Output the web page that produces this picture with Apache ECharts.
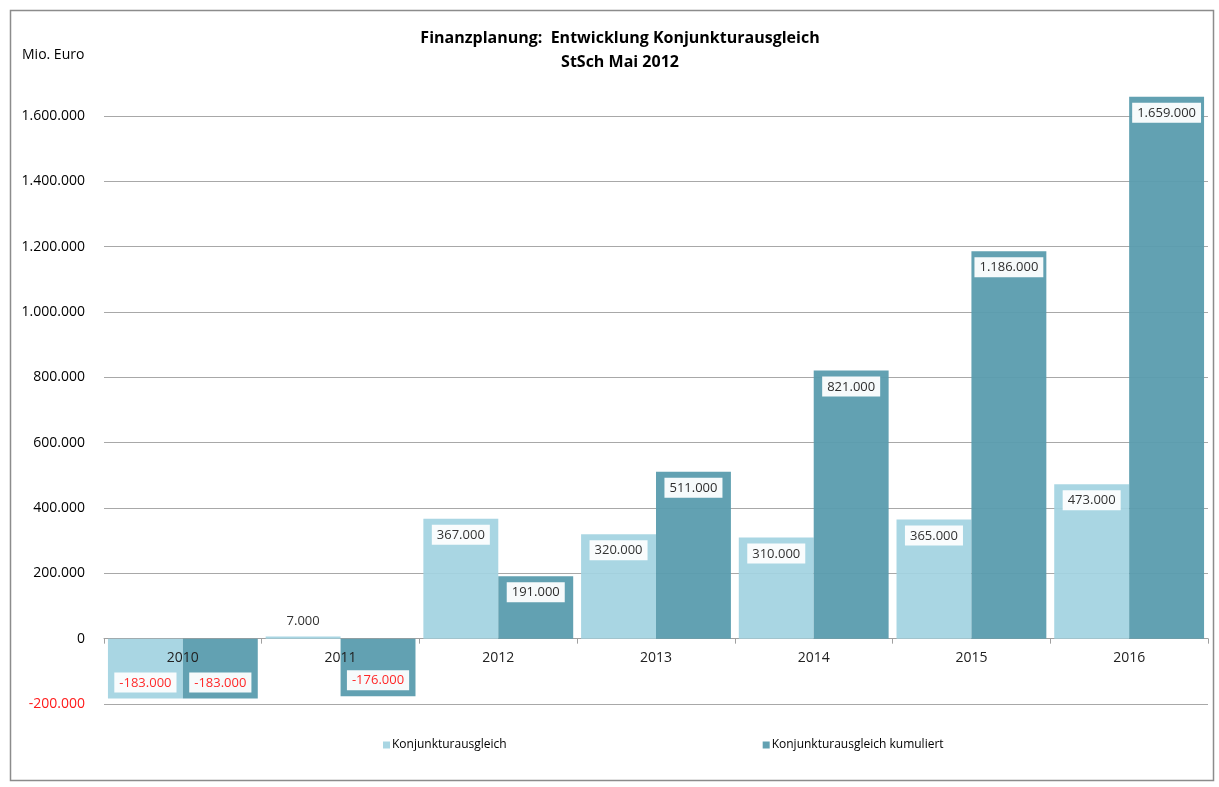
<!DOCTYPE html>
<html><head><meta charset="utf-8">
<script src="https://cdn.jsdelivr.net/npm/echarts@6/dist/echarts.min.js"></script>
<style>html,body{margin:0;padding:0;background:#fff}#c{width:1219px;height:787px}</style>
</head><body><div id="c"></div>
<script>
const categories = ['2010','2011','2012','2013','2014','2015','2016'];
const konjunktur = [-183000, 7000, 367000, 320000, 310000, 365000, 473000];
const kumuliert = [-183000, -176000, 191000, 511000, 821000, 1186000, 1659000];
const seriesNames = ['Konjunkturausgleich','Konjunkturausgleich kumuliert'];
const titleLines = ['Finanzplanung:  Entwicklung Konjunkturausgleich','StSch Mai 2012'];
const unitLabel = 'Mio. Euro';

const FONT = 'Open Sans';
function fmt(v){
  const neg = v < 0; let s = Math.abs(v).toString();
  s = s.replace(/\B(?=(\d{3})+(?!\d))/g, '.');
  return (neg ? '-' : '') + s;
}
function labelFor(v){
  const neg = v < 0;
  const small = Math.abs(v) < 50000;
  return {
    show: true,
    position: small ? 'top' : (neg ? 'insideBottom' : 'insideTop'),
    distance: 6,
    formatter: p => fmt(p.value),
    color: neg ? '#ff1a1a' : '#222',
    fontFamily: FONT, fontSize: 13,
    backgroundColor: small ? 'transparent' : '#fff',
    padding: [4, 5, 3, 5]
  };
}
function mk(vals){ return vals.map(v => ({value: v, label: labelFor(v)})); }

const chart = echarts.init(document.getElementById('c'), null, {renderer: 'canvas'});
chart.setOption({
  animation: false,
  graphic: [
    {type: 'rect', shape: {x: 10.5, y: 10.5, width: 1203, height: 770}, style: {fill: 'none', stroke: '#8c8c8c', lineWidth: 1.5}, z: -1},
    {type: 'text', left: 22, top: 48, style: {text: unitLabel, fontFamily: FONT, fontSize: 14, fill: '#000'}}
  ],
  title: {text: titleLines.join('\n'), left: 615, top: 21, textAlign: 'center',
    textStyle: {fontFamily: FONT, fontSize: 16, fontWeight: 'bold', color: '#000', lineHeight: 24}},
  legend: {bottom: 31, left: 378, itemGap: 256, itemWidth: 7, itemHeight: 7, icon: 'rect',
    textStyle: {fontFamily: FONT, fontSize: 12, color: '#000', padding: [0,0,0,-3]}, data: seriesNames},
  grid: {left: 104, right: 11, top: 116, bottom: 83, containLabel: false, outerBoundsMode: 'none'},
  xAxis: [
    {type: 'category', data: categories,
      axisLine: {onZero: true, lineStyle: {color: '#a0a0a0', width: 1}},
      axisTick: {show: true, length: 5, lineStyle: {color: '#a0a0a0'}},
      axisLabel: {show: false}},
    {type: 'category', data: categories, position: 'bottom', offset: -65, z: 10,
      axisLine: {show: false, onZero: false}, axisTick: {show: false},
      axisLabel: {fontFamily: FONT, fontSize: 14, color: '#222', margin: 12}}
  ],
  yAxis: {type: 'value', min: -200000, max: 1600000, interval: 200000,
    axisLine: {show: false}, axisTick: {show: false},
    splitLine: {lineStyle: {color: '#a8a8a8', width: 1}},
    axisLabel: {fontFamily: FONT, fontSize: 14, margin: 19, formatter: v => fmt(v),
      color: v => v < 0 ? '#ff1a1a' : '#000'}},
  series: [
    {name: seriesNames[0], type: 'bar', data: mk(konjunktur), barGap: '0%', barCategoryGap: '5%', clip: false,
      itemStyle: {color: '#a2d3e1', opacity: 0.93}},
    {name: seriesNames[1], type: 'bar', data: mk(kumuliert), barGap: '0%', barCategoryGap: '5%', clip: false,
      itemStyle: {color: '#5a9cae', opacity: 0.95}}
  ]
});
</script></body></html>
